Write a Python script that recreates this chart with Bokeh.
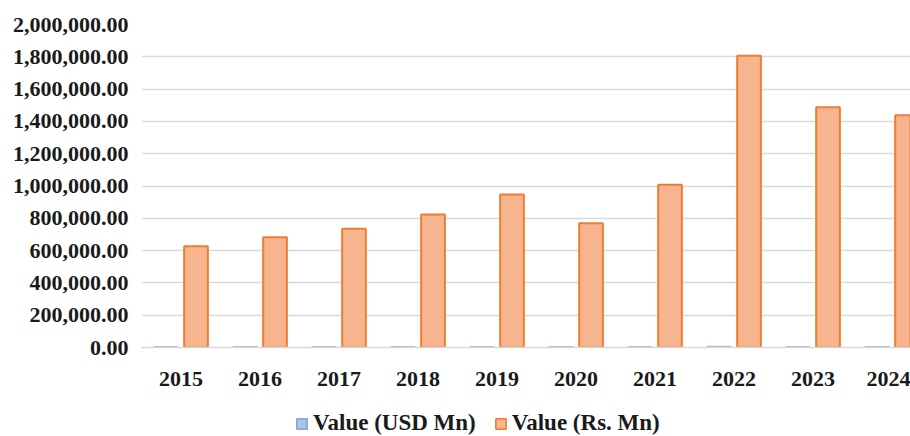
from bokeh.plotting import figure
from bokeh.layouts import column
from bokeh.models import (ColumnDataSource, Range1d, FixedTicker, NumeralTickFormatter,
                          Legend, LegendItem)
from bokeh.transform import dodge
from bokeh.embed import file_html
from bokeh.resources import INLINE

years = ["2015", "2016", "2017", "2018", "2019", "2020", "2021", "2022", "2023", "2024"]
usd_values = [4614, 4684, 4826, 5065, 5300, 4150, 5067, 5565, 4543, 4777]
rs_values = [627000, 682000, 736000, 823000, 947000, 770000, 1007500, 1806000, 1488000, 1438000]
y_ticks = [0, 200000, 400000, 600000, 800000, 1000000, 1200000, 1400000, 1600000, 1800000, 2000000]
series_names = ["Value (USD Mn)", "Value (Rs. Mn)"]

FONT = "Liberation Serif"
TXT = "#1a1a1a"
BLUE_FILL, BLUE_LINE = "#A9C4E5", "#9AB8DC"
ORANGE_FILL, ORANGE_LINE = "#F6B48F", "#ED7D31"

src = ColumnDataSource(dict(x=list(range(len(years))), year=years, usd=usd_values, rs=rs_values))

p = figure(width=910, height=403, output_backend="svg", toolbar_location=None,
           x_range=Range1d(-0.5, 9.234), y_range=Range1d(0, 2000000),
           min_border_left=141, min_border_right=0, min_border_top=24, min_border_bottom=56)
p.outline_line_color = None

p.vbar(x=dodge("x", -0.19, range=p.x_range), top="usd", width=0.30, source=src,
       fill_color=BLUE_FILL, line_color=BLUE_LINE, line_width=1.5)
p.vbar(x=dodge("x", 0.19, range=p.x_range), top="rs", width=0.30, source=src,
       fill_color=ORANGE_FILL, line_color=ORANGE_LINE, line_width=2)

p.xaxis.ticker = FixedTicker(ticks=list(range(len(years))))
p.xaxis.major_label_overrides = {i: y for i, y in enumerate(years)}
p.xaxis.major_tick_line_color = None
p.xaxis.major_tick_out = 0
p.xaxis.minor_tick_line_color = None
p.xaxis.minor_tick_out = 0
p.xaxis.axis_line_color = "#D9D9D9"
p.xaxis.axis_line_width = 1.5
p.xaxis.major_label_text_font = FONT
p.xaxis.major_label_text_font_style = "bold"
p.xaxis.major_label_text_font_size = "22px"
p.xaxis.major_label_text_color = TXT
p.xaxis.major_label_standoff = 24

p.yaxis.ticker = FixedTicker(ticks=y_ticks)
p.yaxis.formatter = NumeralTickFormatter(format="0,0.00")
p.yaxis.axis_line_color = None
p.yaxis.major_tick_line_color = None
p.yaxis.major_tick_out = 0
p.yaxis.minor_tick_line_color = None
p.yaxis.minor_tick_out = 0
p.yaxis.major_label_text_font = FONT
p.yaxis.major_label_text_font_style = "bold"
p.yaxis.major_label_text_font_size = "22px"
p.yaxis.major_label_text_color = TXT
p.yaxis.major_label_standoff = 13

p.xgrid.grid_line_color = None
p.ygrid.grid_line_color = "#D9D9D9"
p.ygrid.grid_line_width = 1.5

# legend strip below the chart (its swatch renderers are hidden; only the legend shows)
lg = figure(width=910, height=33, output_backend="svg", toolbar_location=None,
            x_range=Range1d(100, 101), y_range=Range1d(-2, -1),
            min_border_left=0, min_border_right=0, min_border_top=0, min_border_bottom=0)
lg.outline_line_color = None
lg.axis.visible = False
lg.grid.visible = False
sw_usd = lg.vbar(x="x", top="usd", width=0.1, source=src,
                 fill_color=BLUE_FILL, line_color="#7FA6D6", line_width=1.5)
sw_rs = lg.vbar(x="x", top="rs", width=0.1, source=src,
                fill_color=ORANGE_FILL, line_color=ORANGE_LINE, line_width=1.5)
sw_usd.visible = False
sw_rs.visible = False
legend = Legend(items=[LegendItem(label=series_names[0], renderers=[sw_usd]),
                       LegendItem(label=series_names[1], renderers=[sw_rs])],
                location=(154, 0), orientation="horizontal",
                glyph_width=13, glyph_height=13, label_standoff=5, spacing=18,
                padding=0, margin=0, border_line_color=None, background_fill_alpha=0,
                label_text_font=FONT, label_text_font_style="bold",
                label_text_font_size="23px", label_text_color=TXT)
lg.add_layout(legend, "center")

layout = column(p, lg, spacing=0)
open("out.html", "w").write(file_html(layout, INLINE))
